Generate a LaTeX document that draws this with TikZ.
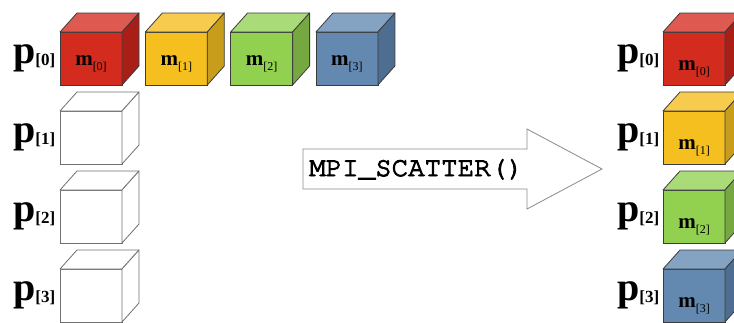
\documentclass[tikz,border=0pt]{standalone}
\usepackage[T1]{fontenc}
\usepackage{fontspec}
\newfontfamily\labelfont{Liberation Serif}
\newcommand\callfont{\fontencoding{T1}\fontfamily{pcr}\fontseries{m}\selectfont}
% slightly heavier typewriter text: fill and stroke the glyphs
\newcommand\heavytext[1]{\special{pdf:literal direct 2 Tr 0.95 w}#1\special{pdf:literal direct 0 Tr}}

% face colours: front / top / side
\definecolor{redF}{HTML}{D42B1F}\definecolor{redT}{HTML}{DE5A50}\definecolor{redS}{HTML}{A81F17}
\definecolor{yelF}{HTML}{F5BF1F}\definecolor{yelT}{HTML}{F7CB4E}\definecolor{yelS}{HTML}{C89D1C}
\definecolor{grnF}{HTML}{92D050}\definecolor{grnT}{HTML}{A9DC78}\definecolor{grnS}{HTML}{75A840}
\definecolor{bluF}{HTML}{6489B0}\definecolor{bluT}{HTML}{84A3C3}\definecolor{bluS}{HTML}{4D6E90}
\definecolor{edgeD}{HTML}{3C3C3C}
\definecolor{edgeL}{HTML}{707070}
\definecolor{arrowE}{HTML}{8A8A8A}

\tikzset{
  frontface/.style={rectangle, minimum width=62pt, minimum height=53pt,
    inner sep=0pt, outer sep=0pt, line width=0.8pt, anchor=north west},
  cubeside/.style={line width=0.8pt, line join=round},
  plabel/.style={anchor=base west, inner sep=0pt, font=\labelfont\bfseries},
  mlabel/.style={anchor=base, inner sep=0pt, font=\labelfont},
  calltext/.style={anchor=base west, inner sep=0pt,
    font=\callfont\fontsize{27.5}{27.5}\selectfont},
}

% #1 name, #2 front top-left corner, #3 front, #4 top, #5 side, #6 edge colour
\newcommand\drawcube[6]{%
  \node[frontface, fill=#3, draw=#6] (#1) at (#2) {};
  \filldraw[cubeside, draw=#6, fill=#4] (#1.north west) -- ++(17,-19)
    -- ([shift={(17,-19)}]#1.north east) -- (#1.north east) -- cycle;
  \filldraw[cubeside, draw=#6, fill=#5] (#1.north east) -- ++(17,-19)
    -- ([shift={(17,-19)}]#1.south east) -- (#1.south east) -- cycle;
}
% #1 name, #2 cube, #3 index, #4 drop of baseline below centre
\newcommand\mtag[4]{%
  \node[mlabel] (#1) at ([yshift=-#4pt]#2.center)
    {{\bfseries\fontsize{21}{21}\selectfont m}\raisebox{-5pt}{\fontsize{12}{12}\selectfont[#3]}};
}
\newcommand\ptag[3]{%
  \node[plabel] (#1) at (#2)
    {{\fontsize{40}{40}\selectfont p}\raisebox{-2pt}{\fontsize{17}{17}\selectfont[#3]}};
}

\begin{document}
\begin{tikzpicture}[x=1pt, y=-1pt]
  \useasboundingbox (0,0) rectangle (734,322);
  \clip (0,0) rectangle (734,322);

  % process labels, left column
  \ptag{lp0}{13,63}{0}
  \ptag{lp1}{13,142}{1}
  \ptag{lp2}{13,221}{2}
  \ptag{lp3}{13,300}{3}

  % root process holds all four blocks
  \drawcube{a0}{60,32}{redF}{redT}{redS}{edgeD}
  \drawcube{a1}{145.3,32}{yelF}{yelT}{yelS}{edgeD}
  \drawcube{a2}{230.6,32}{grnF}{grnT}{grnS}{edgeD}
  \drawcube{a3}{315.9,32}{bluF}{bluT}{bluS}{edgeD}
  \mtag{ma0}{a0}{0}{6.5}
  \mtag{ma1}{a1}{1}{6.5}
  \mtag{ma2}{a2}{2}{6.5}
  \mtag{ma3}{a3}{3}{6.5}

  % other processes start empty
  \drawcube{e1}{60,111}{white}{white}{white}{edgeL}
  \drawcube{e2}{60,190}{white}{white}{white}{edgeL}
  \drawcube{e3}{60,269}{white}{white}{white}{edgeL}

  % the collective call
  \filldraw[line width=0.8pt, draw=arrowE, fill=white, line join=miter]
    (303,149) -- (527,149) -- (527,129) -- (602,169) -- (527,209)
    -- (527,189) -- (303,189) -- cycle;
  \node[calltext] (call) at (309,176) {\heavytext{MPI\_SCATTER()}};

  % process labels, right column
  \ptag{rp0}{617,63}{0}
  \ptag{rp1}{617,142}{1}
  \ptag{rp2}{617,221}{2}
  \ptag{rp3}{617,300}{3}

  % after the scatter each process holds one block
  \drawcube{b0}{663,32}{redF}{redT}{redS}{edgeD}
  \drawcube{b1}{663,111}{yelF}{yelT}{yelS}{edgeD}
  \drawcube{b2}{663,190}{grnF}{grnT}{grnS}{edgeD}
  \drawcube{b3}{663,269}{bluF}{bluT}{bluS}{edgeD}
  \mtag{mb0}{b0}{0}{11.5}
  \mtag{mb1}{b1}{1}{11.5}
  \mtag{mb2}{b2}{2}{11.5}
  \mtag{mb3}{b3}{3}{11.5}
\end{tikzpicture}
\end{document}
